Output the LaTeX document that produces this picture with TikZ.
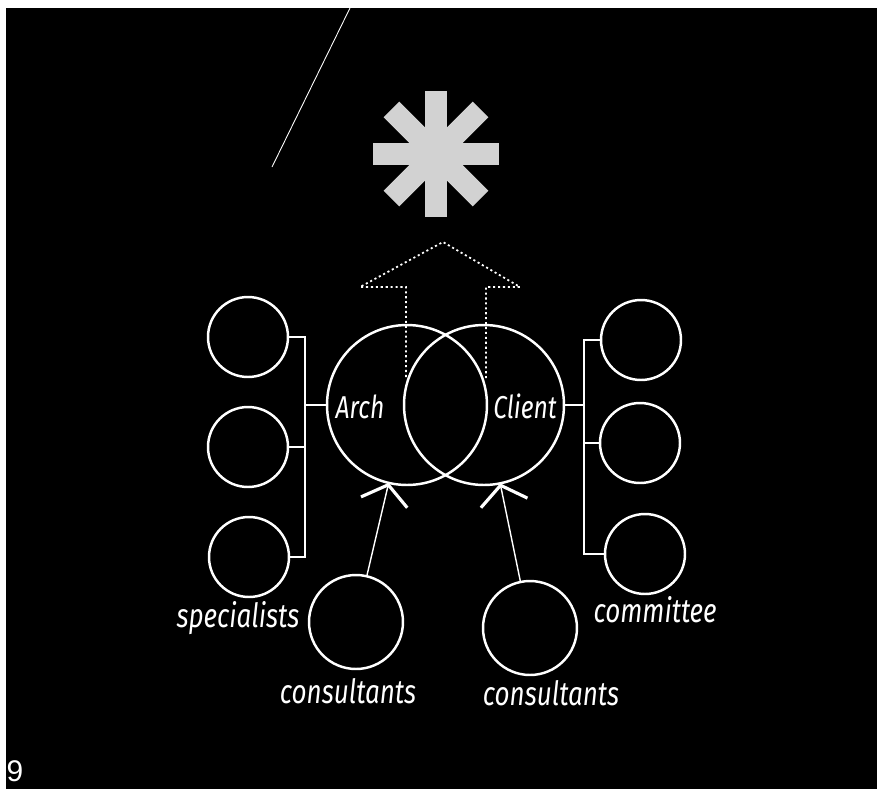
\documentclass[tikz,border=0pt]{standalone}
\usepackage{fontspec}
\usepackage{tikz}
\usetikzlibrary{arrows.meta}
\newfontfamily\hand{Fira Sans Italic}[FakeStretch=0.78]
\newfontfamily\numfont{Liberation Sans}

\begin{document}
\begin{tikzpicture}[x=0.02cm, y=-0.02cm, >=stealth,
    ring/.style={draw=white, line width=1.4pt, circle, inner sep=0pt, outer sep=0pt},
    bigring/.style={ring, minimum size=3.2cm},
    smallring/.style={ring, minimum size=1.6cm},
    consring/.style={ring, minimum size=1.88cm},
    bracket/.style={draw=white, line width=1.1pt},
    handlabel/.style={text=white, inner sep=0pt, anchor=base, font=\hand\fontsize{19}{22}\selectfont},
    handname/.style={handlabel, font=\hand\fontsize{18}{20}\selectfont},
    consarrow/.style={draw=white, line width=0.8pt,
      -{Straight Barb[length=0.36cm, width=0.95cm, line width=1.8pt]}}]
    % Background
    \useasboundingbox (0,0) rectangle (877,789);
    \fill[white] (0,0) rectangle (877,789);
    \fill[black] (6,8) rectangle (877,789);

    % Scratch across the top
    \draw[white, line width=0.5pt] (350,8) -- (272,167);

    % Asterisk
    \begin{scope}[shift={(436,154)}]
      \foreach \ang in {0,45,90,135}
        \fill[gray!35, rotate=\ang] (-63,-11) rectangle (63,11);
    \end{scope}

    % Dotted arrow outline
    \draw[white, line width=1pt, dash pattern=on 1.2pt off 1.6pt]
      (406,377) -- (406,287) -- (360,287) -- (443,242) -- (520,287) -- (486,287) -- (486,378);

    % Overlapping circles
    \node[bigring] (arch) at (407,405) {};
    \node[bigring] (client) at (484,405) {};
    \node[handname] (archlbl) at (360,418) {Arch};
    \node[handname] (clientlbl) at (525,418) {Client};

    % Specialists on the left
    \node[smallring] (specA) at (248,337) {};
    \node[smallring] (specB) at (248,447) {};
    \node[smallring] (specC) at (249,557) {};
    \coordinate (lbar) at (305,0);
    \draw[bracket] (specA.east) -- (specA.east -| lbar) -- (specC.east -| lbar) -- (specC.east);
    \draw[bracket] (specB.east) -- (specB.east -| lbar);
    \draw[bracket] (arch.west) -- (arch.west -| lbar);
    \node[handlabel] (speclbl) at (238,627) {specialists};

    % Committee on the right
    \node[smallring] (commA) at (641,340) {};
    \node[smallring] (commB) at (640,443) {};
    \node[smallring] (commC) at (645,554) {};
    \coordinate (rbar) at (584,0);
    \draw[bracket] (commA.west) -- (commA.west -| rbar) -- (commC.west -| rbar) -- (commC.west);
    \draw[bracket] (commB.west) -- (commB.west -| rbar);
    \draw[bracket] (client.east) -- (client.east -| rbar);
    \node[handlabel] (commlbl) at (655,622) {committee};

    % Consultants below
    \node[consring] (consL) at (356,622) {};
    \node[consring] (consR) at (530,628) {};
    \draw[consarrow] (consL) -- (arch);
    \draw[consarrow] (consR) -- (client);
    \node[handlabel] (conslblL) at (348,703) {consultants};
    \node[handlabel] (conslblR) at (551,705) {consultants};

    % Page number
    \node[text=white, inner sep=0pt, font=\numfont\fontsize{17}{20}\selectfont] (pagenum) at (15,771) {9};
\end{tikzpicture}
\end{document}
